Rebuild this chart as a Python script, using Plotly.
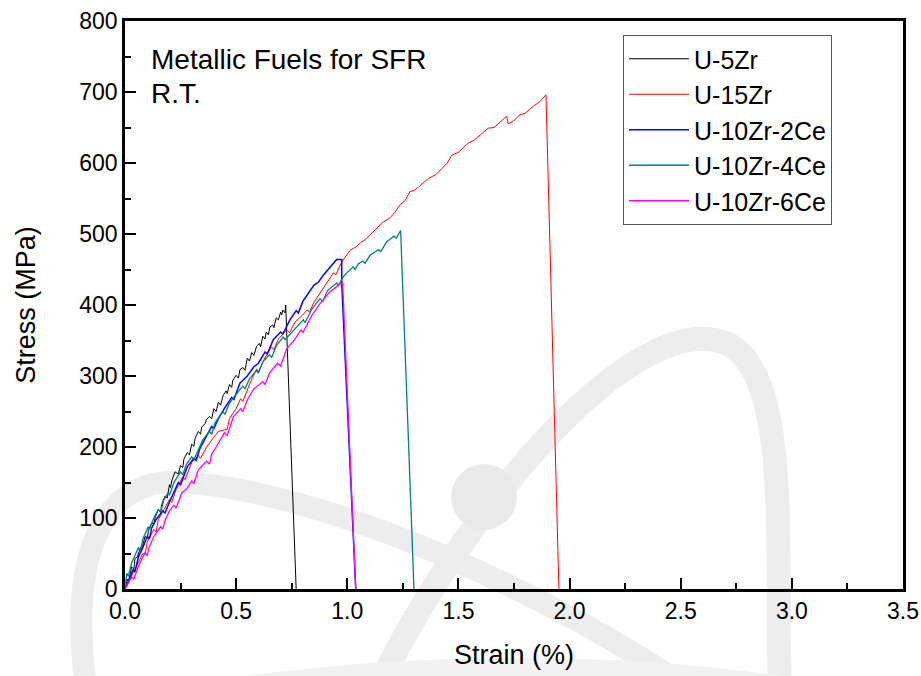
import plotly.graph_objects as go

# ---------------- data ----------------
u5zr_x = [0, 0.01, 0.015, 0.02, 0.03, 0.04, 0.045, 0.055, 0.07, 0.075, 0.08, 0.09, 0.10, 0.105, 0.12,
          0.13, 0.135, 0.15, 0.16, 0.165, 0.18, 0.19, 0.20, 0.205, 0.21, 0.225, 0.24, 0.25, 0.26,
          0.265, 0.28, 0.29, 0.30, 0.31, 0.315, 0.33, 0.34, 0.345, 0.36, 0.367, 0.38, 0.39, 0.40,
          0.41, 0.42, 0.43, 0.442, 0.455, 0.46, 0.47, 0.48, 0.485, 0.50, 0.51, 0.517, 0.53, 0.54,
          0.55, 0.56, 0.57, 0.58, 0.592, 0.605, 0.61, 0.62, 0.63, 0.635, 0.645, 0.652, 0.665, 0.67,
          0.68, 0.69, 0.70, 0.705, 0.71, 0.72, 0.723, 0.77]
u5zr_y = [0, 14, 10, 19, 31, 28, 43, 45, 59, 55, 63, 74, 71, 82, 93,
          91, 100, 112, 108, 119, 131, 128, 147, 143, 152, 165, 162, 174, 171,
          183, 192, 189, 204, 201, 212, 222, 218, 228, 233, 239, 243, 240, 254,
          250, 263, 259, 273, 279, 275, 288, 284, 294, 301, 297, 309, 312, 308,
          325, 321, 333, 329, 342, 346, 341, 356, 352, 362, 358, 369, 372, 368,
          382, 379, 390, 386, 393, 389, 400, 0]

u15zr_x = [0, 0.02, 0.03, 0.05, 0.08, 0.09, 0.10, 0.13, 0.14, 0.15, 0.18, 0.20, 0.21, 0.23, 0.26,
           0.27, 0.30, 0.33, 0.34, 0.367, 0.40, 0.42, 0.46, 0.47, 0.50, 0.52, 0.53, 0.56, 0.592, 0.60,
           0.63, 0.659, 0.67, 0.69, 0.727, 0.74, 0.765, 0.80, 0.819, 0.83, 0.85, 0.877, 0.91, 0.937,
           0.95, 0.97, 1.012, 1.04, 1.06, 1.08, 1.102, 1.13, 1.162, 1.19, 1.215, 1.237, 1.26, 1.282,
           1.30, 1.32, 1.364, 1.40, 1.432, 1.45, 1.47, 1.50, 1.544, 1.57, 1.60, 1.634, 1.66, 1.687,
           1.717, 1.724, 1.75, 1.777, 1.80, 1.837, 1.865, 1.894, 1.952]
u15zr_y = [0, 12, 20, 32, 50, 48, 66, 84, 80, 98, 114, 126, 122, 140, 158,
           154, 178, 188, 184, 200, 214, 222, 225, 240, 254, 268, 264, 288, 310, 306,
           326, 341, 337, 352, 365, 361, 376, 386, 393, 390, 404, 416, 432, 445,
           443, 458, 477, 482, 488, 492, 499, 508, 517, 522, 531, 541, 547, 560,
           561, 566, 578, 584, 595, 600, 611, 615, 628, 632, 640, 649, 650, 658,
           666, 655, 660, 668, 670, 680, 686, 696, 0]

ce2_x = [0, 0.015, 0.036, 0.045, 0.06, 0.08, 0.10, 0.11, 0.12, 0.14, 0.17, 0.18, 0.202, 0.22, 0.24,
         0.25, 0.28, 0.31, 0.32, 0.337, 0.36, 0.39, 0.40, 0.42, 0.447, 0.48, 0.49, 0.517, 0.55,
         0.58, 0.60, 0.63, 0.64, 0.667, 0.70, 0.71, 0.742, 0.77, 0.78, 0.80, 0.85, 0.87, 0.892,
         0.92, 0.952, 0.975, 0.975, 1.038]
ce2_y = [0, 10, 27, 24, 45, 58, 74, 71, 86, 98, 110, 107, 124, 136, 150,
         147, 172, 184, 181, 198, 212, 229, 226, 240, 254, 270, 267, 290, 300,
         313, 318, 334, 331, 351, 362, 359, 379, 392, 389, 405, 428, 432, 442,
         452, 464, 464, 431, 0]

ce4_x = [0, 0.008, 0.015, 0.03, 0.06, 0.07, 0.08, 0.105, 0.11, 0.13, 0.15, 0.16, 0.175, 0.195, 0.20,
         0.22, 0.25, 0.26, 0.275, 0.30, 0.31, 0.35, 0.38, 0.39, 0.405, 0.44, 0.45, 0.47, 0.53, 0.54,
         0.56, 0.592, 0.60, 0.62, 0.65, 0.66, 0.68, 0.712, 0.72, 0.76, 0.802, 0.81, 0.84, 0.877,
         0.89, 0.91, 0.952, 0.96, 0.982, 1.00, 1.027, 1.035, 1.05, 1.07, 1.08, 1.102, 1.14, 1.15,
         1.177, 1.21, 1.22, 1.24, 1.30]
ce4_y = [0, 22, 18, 37, 58, 54, 70, 88, 84, 100, 112, 108, 126, 136, 132,
         150, 165, 161, 175, 186, 182, 210, 222, 218, 234, 250, 246, 262, 286, 282,
         296, 308, 304, 320, 330, 326, 342, 355, 351, 365, 379, 375, 394, 409,
         405, 420, 431, 427, 440, 446, 454, 450, 458, 462, 459, 470, 478, 475,
         489, 497, 494, 505, 0]

ce6_x = [0, 0.03, 0.04, 0.06, 0.09, 0.10, 0.11, 0.13, 0.16, 0.17, 0.18, 0.20, 0.22, 0.23, 0.255,
         0.28, 0.30, 0.31, 0.33, 0.367, 0.38, 0.39, 0.41, 0.447, 0.46, 0.487, 0.52, 0.53, 0.553,
         0.58, 0.62, 0.63, 0.65, 0.686, 0.70, 0.727, 0.76, 0.792, 0.80, 0.84, 0.877, 0.92, 0.96,
         0.979, 1.038]
ce6_y = [0, 17, 14, 32, 51, 47, 60, 74, 88, 84, 97, 110, 118, 114, 135,
         142, 152, 149, 168, 180, 176, 190, 200, 220, 216, 242, 254, 250, 268,
         282, 292, 288, 304, 318, 314, 338, 350, 365, 361, 385, 402, 418, 428,
         431, 0]

names = ["U-5Zr", "U-15Zr", "U-10Zr-2Ce", "U-10Zr-4Ce", "U-10Zr-6Ce"]
xs = [u5zr_x, u15zr_x, ce2_x, ce4_x, ce6_x]
ys = [u5zr_y, u15zr_y, ce2_y, ce4_y, ce6_y]
colors = ["#000000", "#ff0000", "#0000ff", "#008080", "#ff00ff"]
widths = [1.0, 1.0, 1.5, 1.3, 1.3]

x_ticks = [0.0, 0.5, 1.0, 1.5, 2.0, 2.5, 3.0, 3.5]
y_ticks = [0, 100, 200, 300, 400, 500, 600, 700, 800]

# ---------------- figure ----------------
W, H = 921, 676
ML, MR, MT, MB = 125, 18, 21, 87
PW, PH = W - ML - MR, H - MT - MB

def P(px, py):
    return f"{(px - ML) / PW:.4f},{(H - MB - py) / PH:.4f}"

def xp(px):
    return (px - ML) / PW

def yp(py):
    return (H - MB - py) / PH

fig = go.Figure()
for n, x, y, c, w in zip(names, xs, ys, colors, widths):
    fig.add_trace(go.Scatter(x=x, y=y, mode="lines", name=n,
                             line=dict(color=c, width=w)))

font_family = "Arial, Liberation Sans, Helvetica, sans-serif"

# faint atom watermark behind the chart
wm = "#ededed"
shapes = [
    dict(type="path", xref="paper", yref="paper", layer="below",
         path=f"M {P(88,700)} C {P(66,560)} {P(100,478)} {P(180,482)} C {P(320,490)} {P(550,590)} {P(705,700)}",
         line=dict(color=wm, width=22)),
    dict(type="path", xref="paper", yref="paper", layer="below",
         path=f"M {P(372,700)} C {P(460,510)} {P(640,300)} {P(730,345)} C {P(792,380)} {P(775,560)} {P(780,700)}",
         line=dict(color=wm, width=24)),
    dict(type="path", xref="paper", yref="paper", layer="below",
         path=f"M {P(160,700)} C {P(350,660)} {P(650,652)} {P(860,700)}",
         line=dict(color="#f2f2f2", width=18)),
    dict(type="circle", xref="paper", yref="paper", layer="below",
         x0=xp(451), x1=xp(517), y0=yp(530), y1=yp(464),
         fillcolor="#e9e9e9", line=dict(width=0)),
]

fig.update_layout(
    width=W, height=H,
    margin=dict(l=ML, r=MR, t=MT, b=MB, autoexpand=False),
    paper_bgcolor="white", plot_bgcolor="rgba(0,0,0,0)",
    font=dict(family=font_family, color="black", size=23),
    showlegend=True,
    legend=dict(x=xp(623), y=yp(35), xanchor="left", yanchor="top",
                bordercolor="#555555", borderwidth=1, bgcolor="white",
                font=dict(size=25, family=font_family), itemwidth=60,
                tracegroupgap=0),
    shapes=shapes,
    annotations=[
        dict(text="Metallic Fuels for SFR", xref="paper", yref="paper",
             x=xp(149), y=yp(59), xanchor="left", yanchor="middle",
             showarrow=False, font=dict(size=28, family=font_family)),
        dict(text="R.T.", xref="paper", yref="paper",
             x=xp(149), y=yp(93), xanchor="left", yanchor="middle",
             showarrow=False, font=dict(size=28, family=font_family)),
    ],
)

axis_common = dict(showline=True, linecolor="black", linewidth=2.5, mirror=True,
                   ticks="inside", tickwidth=2, tickcolor="black", ticklen=11,
                   showgrid=False, zeroline=False, automargin=False,
                   tickfont=dict(size=23, family=font_family),
                   title_font=dict(size=27, family=font_family))

fig.update_xaxes(range=[0, 3.5], tickvals=x_ticks, ticktext=[f"{v:.1f}" for v in x_ticks],
                 minor=dict(dtick=0.25, ticks="inside", ticklen=6, tickwidth=2, tickcolor="black"),
                 title_text="Strain (%)", title_standoff=22, **axis_common)
fig.update_yaxes(range=[0, 800], tickvals=y_ticks,
                 minor=dict(dtick=50, ticks="inside", ticklen=6, tickwidth=2, tickcolor="black"),
                 title_text="Stress (MPa)", title_standoff=36, **axis_common)

fig.write_html("out.html", config={"displayModeBar": False},
               post_script="document.body.style.margin='0';document.body.style.padding='0';")
